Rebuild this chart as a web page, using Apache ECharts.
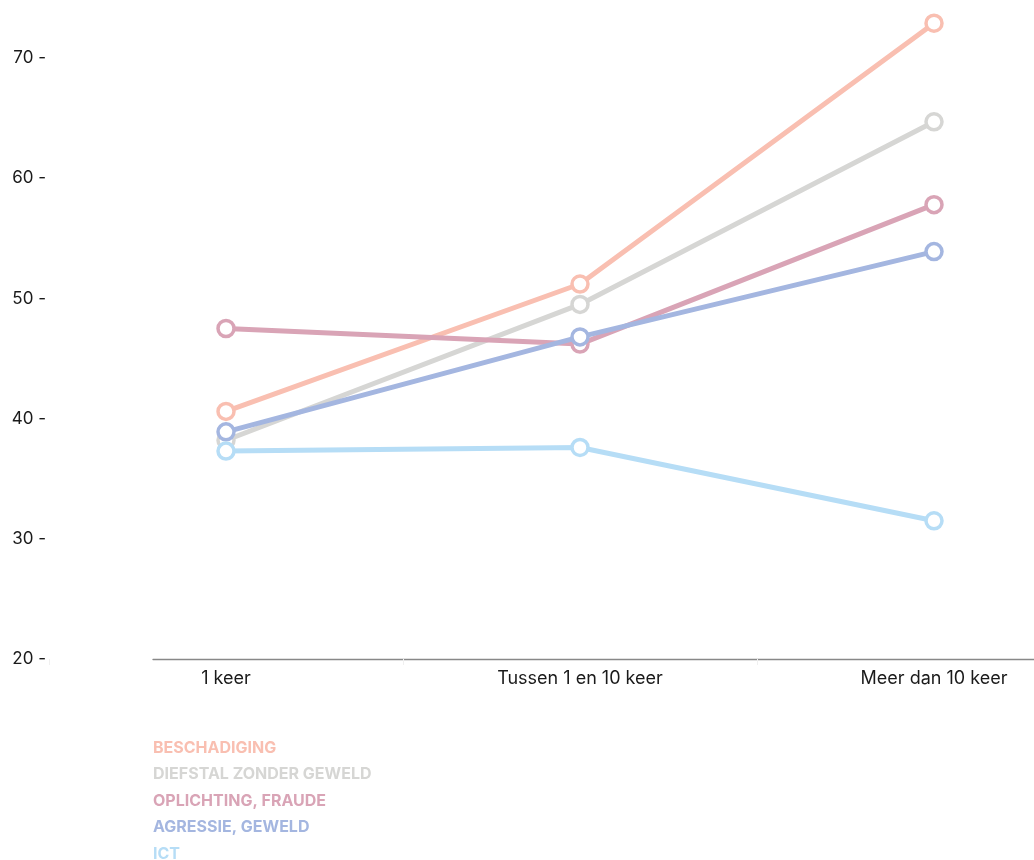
<!DOCTYPE html>
<html>
<head>
<meta charset="utf-8">
<script src="https://cdn.jsdelivr.net/npm/echarts@6/dist/echarts.min.js"></script>
<style>
  html, body { margin: 0; padding: 0; background: #ffffff; }
  #chart { width: 1034px; height: 860px; }
</style>
</head>
<body>
<div id="chart"></div>
<script>
// Frequency categories on the x axis
const categories = ['1 keer', 'Tussen 1 en 10 keer', 'Meer dan 10 keer'];

// Series values per offence type
const beschadiging = [40.6, 51.2, 72.9];
const diefstal = [38.2, 49.5, 64.7];
const oplichting = [47.5, 46.2, 57.8];
const agressie = [38.9, 46.8, 53.9];
const ict = [37.3, 37.6, 31.5];

const seriesNames = ['BESCHADIGING', 'DIEFSTAL ZONDER GEWELD', 'OPLICHTING, FRAUDE', 'AGRESSIE, GEWELD', 'ICT'];
const seriesValues = [beschadiging, diefstal, oplichting, agressie, ict];
const colors = ['#f9bfb1', '#d6d6d4', '#d9a4b6', '#a4b6e0', '#b6ddf6'];

// Y axis tick labels
const yTicks = [20, 30, 40, 50, 60, 70];

const FONT = 'Inter, "Noto Sans", sans-serif';

const chart = echarts.init(document.getElementById('chart'), null, { renderer: 'canvas' });

const series = seriesNames.map((name, i) => ({
  name: name,
  type: 'line',
  xAxisIndex: 0,
  yAxisIndex: 0,
  data: seriesValues[i],
  symbol: 'circle',
  symbolSize: 16,
  showAllSymbol: true,
  lineStyle: { width: 5, color: colors[i] },
  itemStyle: { color: '#ffffff', borderColor: colors[i], borderWidth: 3.5 },
  emphasis: { disabled: true },
  animation: false,
  z: 2 + i
}));

chart.setOption({
  backgroundColor: '#ffffff',
  animation: false,
  grid: [
    // category bands run past the right edge of the canvas
    { left: 49, width: 1062, top: 10, bottom: 201, containLabel: false, outerBoundsMode: 'none' },
    // baseline spanning only the visible plot area
    { left: 153, right: 0, top: 10, bottom: 201, containLabel: false, outerBoundsMode: 'none' }
  ],
  xAxis: [
    {
      type: 'category',
      gridIndex: 0,
      data: categories,
      boundaryGap: true,
      axisLine: { show: false },
      axisTick: { show: true, length: 6, lineStyle: { color: '#f0f0f0', width: 1 } },
      axisLabel: { color: '#1a1a1a', fontFamily: FONT, fontSize: 18, margin: 11 },
      splitLine: { show: false }
    },
    {
      type: 'value',
      gridIndex: 1,
      min: 0,
      max: 1,
      axisLine: { show: true, lineStyle: { color: '#888888', width: 1.3 } },
      axisTick: { show: false },
      axisLabel: { show: false },
      splitLine: { show: false }
    }
  ],
  yAxis: [
    {
      type: 'value',
      gridIndex: 0,
      min: yTicks[0],
      max: 74,
      interval: 10,
      axisLine: { show: false },
      axisTick: { show: false },
      splitLine: { show: false },
      axisLabel: {
        color: '#1a1a1a',
        fontFamily: FONT,
        fontSize: 17,
        margin: 3,
        formatter: v => (yTicks.indexOf(v) >= 0 ? v + ' -' : '')
      }
    },
    {
      type: 'value',
      gridIndex: 1,
      min: 0,
      max: 1,
      show: false
    }
  ],
  legend: {
    orient: 'vertical',
    left: 148,
    top: 740,
    padding: 0,
    height: 140,
    itemWidth: 0,
    itemHeight: 16,
    itemGap: 10.5,
    icon: 'none',
    selectedMode: false,
    data: seriesNames.map((n, i) => ({
      name: n,
      icon: 'none',
      textStyle: { color: colors[i], fontWeight: 'bold', fontFamily: FONT, fontSize: 16, lineHeight: 16 }
    }))
  },
  series: series
});
</script>
</body>
</html>
